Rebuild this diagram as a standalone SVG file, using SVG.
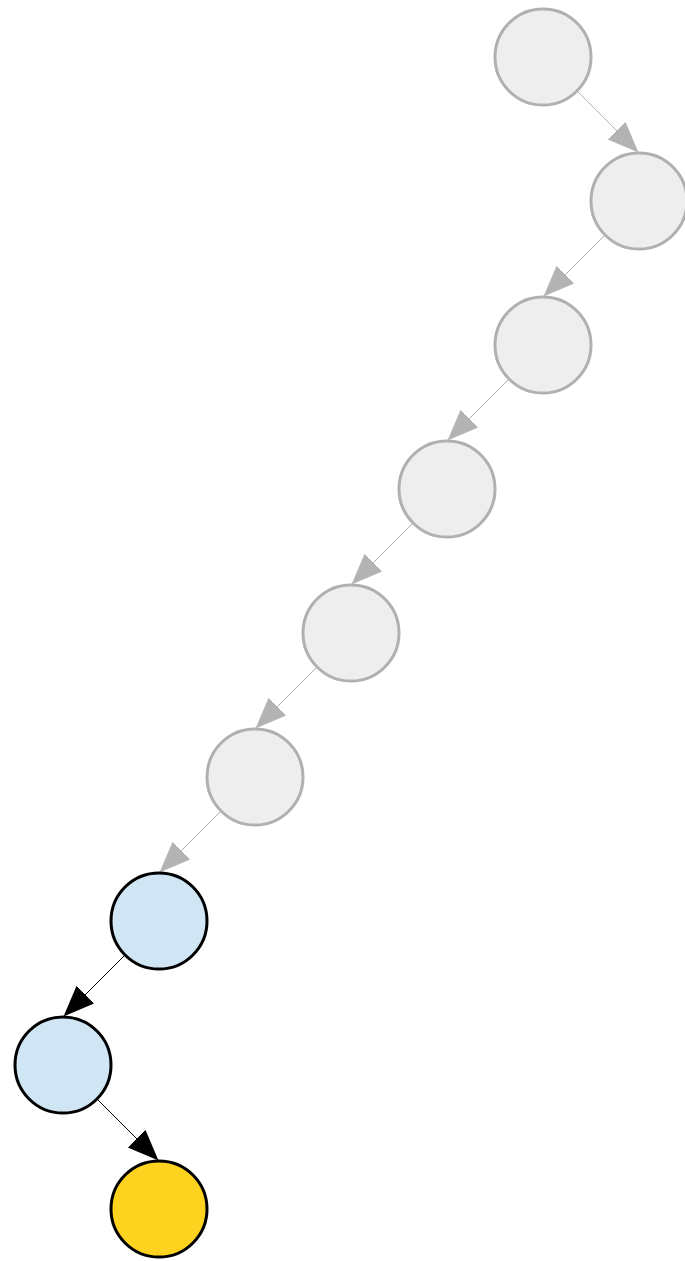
<svg xmlns="http://www.w3.org/2000/svg" width="685" height="1261" viewBox="0 0 685 1261">
<style>
.n circle{stroke-width:3}
.g circle{fill:#eeeeee;stroke:#b0b0b0}
.b circle{fill:#d0e6f4;stroke:#000}
.y circle{fill:#fed320;stroke:#000}
.eg{stroke:#b3b3b3;stroke-width:1;fill:none}
.eb{stroke:#000;stroke-width:1;fill:none}
</style>
<defs>
<marker id="ag" markerUnits="userSpaceOnUse" markerWidth="34" markerHeight="26" refX="31" refY="12.5" orient="auto" viewBox="0 0 34 26">
<path d="M0,0 L31,12.5 L0,25 z" fill="#b3b3b3"/>
</marker>
<marker id="ab" markerUnits="userSpaceOnUse" markerWidth="34" markerHeight="26" refX="31" refY="12.5" orient="auto" viewBox="0 0 34 26">
<path d="M0,0 L31,12.5 L0,25 z" fill="#000"/>
</marker>
</defs>
<g id="edges">
<line class="eg" x1="577" y1="91" x2="638.5" y2="152.5" marker-end="url(#ag)"/>
<line class="eg" x1="605" y1="235" x2="543.5" y2="296.5" marker-end="url(#ag)"/>
<line class="eg" x1="509" y1="379" x2="447.5" y2="440.5" marker-end="url(#ag)"/>
<line class="eg" x1="413" y1="523" x2="351.5" y2="584.5" marker-end="url(#ag)"/>
<line class="eg" x1="317" y1="667" x2="255.5" y2="728.5" marker-end="url(#ag)"/>
<line class="eg" x1="221" y1="811" x2="159.5" y2="872.5" marker-end="url(#ag)"/>
<line class="eb" x1="125" y1="955" x2="63.5" y2="1016.5" marker-end="url(#ab)"/>
<line class="eb" x1="97" y1="1099" x2="158.5" y2="1160.5" marker-end="url(#ab)"/>
</g>
<g id="n1" class="n g"><circle cx="543" cy="57" r="48"/></g>
<g id="n2" class="n g"><circle cx="639" cy="201" r="48"/></g>
<g id="n3" class="n g"><circle cx="543" cy="345" r="48"/></g>
<g id="n4" class="n g"><circle cx="447" cy="489" r="48"/></g>
<g id="n5" class="n g"><circle cx="351" cy="633" r="48"/></g>
<g id="n6" class="n g"><circle cx="255" cy="777" r="48"/></g>
<g id="n7" class="n b"><circle cx="159" cy="921" r="48"/></g>
<g id="n8" class="n b"><circle cx="63" cy="1065" r="48"/></g>
<g id="n9" class="n y"><circle cx="159" cy="1209" r="48"/></g>
</svg>
